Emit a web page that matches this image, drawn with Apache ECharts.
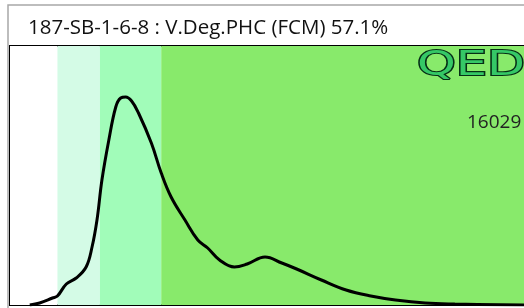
<!DOCTYPE html>
<html>
<head>
<meta charset="utf-8">
<script src="https://cdn.jsdelivr.net/npm/echarts@6/dist/echarts.min.js"></script>
<style>
html, body { margin: 0; padding: 0; background: #fff; }
#chart { width: 524px; height: 308px; }
</style>
</head>
<body>
<div id="chart"></div>
<script>
// histogram curve, x = channel from plot left, y = count height
var curveX = [20, 30, 43, 48, 57, 67, 77, 83, 88, 93, 100, 107, 112, 117, 123, 130, 143, 153, 163, 177, 190, 200, 212, 227, 240, 258, 275, 290, 315, 340, 365, 390, 420, 450, 520]
var curveY = [0, 2, 7, 9, 21, 27, 38, 58, 85, 125, 165, 198, 207, 208, 204, 192, 162, 132, 108, 85, 65, 57, 45, 38, 41, 48, 42, 36, 25, 15, 9, 5, 2, 1, 0]
// gate bands: edges and colours
var bandEdges = [0, 48, 91, 153, 520]
var bandColors = ['#ffffff', '#d4fbe6', '#a1fcb9', '#88ea6b']
var titleText = '187-SB-1-6-8 : V.Deg.PHC (FCM) 57.1%'
var countText = '16029'

var chart = echarts.init(document.getElementById('chart'))

var curve = curveX.map(function (x, i) { return [x, curveY[i]] })
var bands = []
for (var i = 0; i < bandColors.length; i++) {
  bands.push([{ xAxis: bandEdges[i], itemStyle: { color: bandColors[i] } }, { xAxis: bandEdges[i + 1] }])
}

var option = {
  animation: false,
  title: {
    text: titleText,
    left: 23,
    top: 13,
    textStyle: { fontFamily: 'Open Sans', fontSize: 20.5, fontWeight: 'normal', color: '#111' }
  },
  grid: {
    left: 10, top: 46, width: 520, height: 259,
    show: true, borderColor: '#000', borderWidth: 2, backgroundColor: 'transparent'
  },
  xAxis: { type: 'value', min: 0, max: 520, show: false },
  yAxis: { type: 'value', min: 0, max: 259, show: false },
  series: [{
    type: 'line',
    data: curve,
    smooth: 0.4,
    symbol: 'none',
    lineStyle: { color: '#000', width: 3 },
    markArea: { silent: true, data: bands },
    z: 3
  }],
  graphic: [
    { type: 'rect', shape: { x: 8, y: 5, width: 520, height: 310 }, style: { fill: 'none', stroke: '#a8a8a8', lineWidth: 1.5 }, z: 0 },
    {
      type: 'text', x: 417, y: 49, z: 10, scaleX: 1.45,
      style: {
        text: 'QED', fontFamily: 'DejaVu Sans', fontSize: 34, fontWeight: 'normal',
        fill: '#35c866', stroke: '#062e16', lineWidth: 2.2
      }
    },
    {
      type: 'text', left: 467, top: 113, z: 10,
      style: { text: countText, fontFamily: 'Open Sans', fontSize: 19, fill: '#222' }
    }
  ]
}
chart.setOption(option)
</script>
</body>
</html>
